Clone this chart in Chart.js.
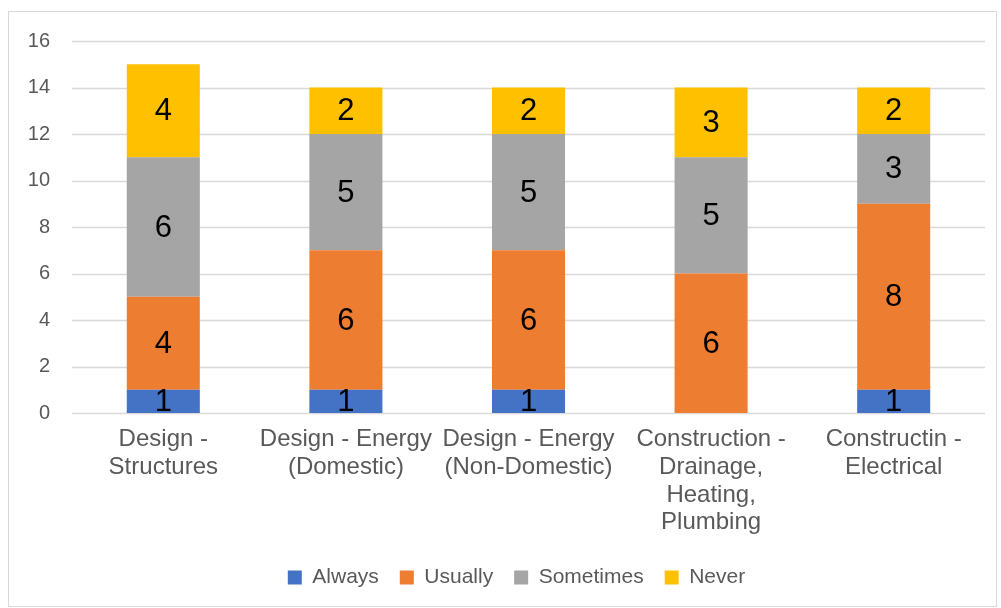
<!DOCTYPE html>
<html>
<head>
<meta charset="utf-8">
<script src="https://cdn.jsdelivr.net/npm/chart.js@4"></script>
<style>
  body { margin: 0; background: #fff; }
  #box { position: absolute; left: 8px; top: 11px; width: 987px; height: 594px; border: 1px solid #d9d9d9; }
</style>
</head>
<body>
<div id="box"><canvas id="grafico"></canvas></div>
<script>
// categorias (con saltos de linea como en el original)
const categorias = [
  ['Design -', 'Structures'],
  ['Design - Energy', '(Domestic)'],
  ['Design - Energy', '(Non-Domestic)'],
  ['Construction -', 'Drainage,', 'Heating,', 'Plumbing'],
  ['Constructin -', 'Electrical']
];
const always = [1, 1, 1, 0, 1];
const usually = [4, 6, 6, 6, 8];
const sometimes = [6, 5, 5, 5, 3];
const never = [4, 2, 2, 3, 2];
const yTicks = [0, 2, 4, 6, 8, 10, 12, 14, 16];

const fuente = "'Liberation Sans', Arial, sans-serif";

// lineas horizontales solo sobre el ancho de las categorias
const rejilla = {
  id: 'rejilla',
  beforeDatasetsDraw(chart) {
    const ctx = chart.ctx;
    const x = chart.scales.x;
    const y = chart.scales.y;
    const x0 = x.getPixelForValue(-0.5);
    const x1 = x.getPixelForValue(categorias.length - 0.5);
    ctx.save();
    ctx.strokeStyle = '#d9d9d9';
    ctx.lineWidth = 1.5;
    yTicks.forEach(v => {
      const py = Math.round(y.getPixelForValue(v)) + 0.5;
      ctx.beginPath();
      ctx.moveTo(x0, py);
      ctx.lineTo(x1, py);
      ctx.stroke();
    });
    ctx.restore();
  }
};

// la leyenda del original esta un poco a la izquierda del centro del area
const moverLeyenda = {
  id: 'moverLeyenda',
  afterLayout(chart) {
    chart.legend.left -= 12;
    chart.legend.right -= 12;
  }
};

// etiquetas dentro de las barras (no hay plugin datalabels offline)
const etiquetas = {
  id: 'etiquetas',
  afterDatasetsDraw(chart) {
    const ctx = chart.ctx;
    ctx.save();
    ctx.font = '31px ' + fuente;
    ctx.fillStyle = '#000';
    ctx.textAlign = 'center';
    ctx.textBaseline = 'middle';
    chart.data.datasets.forEach((ds, i) => {
      const meta = chart.getDatasetMeta(i);
      meta.data.forEach((bar, j) => {
        const v = ds.data[j];
        if (!v) return;
        ctx.fillText(String(v), bar.x, (bar.y + bar.base) / 2 + 1);
      });
    });
    ctx.restore();
  }
};

new Chart(document.getElementById('grafico'), {
  type: 'bar',
  data: {
    labels: categorias,
    datasets: [
      { label: 'Always', data: always, backgroundColor: '#4472C4' },
      { label: 'Usually', data: usually, backgroundColor: '#ED7D31' },
      { label: 'Sometimes', data: sometimes, backgroundColor: '#A5A5A5' },
      { label: 'Never', data: never, backgroundColor: '#FFC000' }
    ]
  },
  options: {
    responsive: true,
    maintainAspectRatio: false,
    animation: false,
    barPercentage: 0.4,
    categoryPercentage: 1,
    layout: { padding: { top: 29, right: 11, bottom: 8, left: 0 } },
    plugins: {
      legend: {
        position: 'bottom',
        fullSize: false,
        labels: { font: { family: fuente, size: 21 }, color: '#595959', boxWidth: 14, boxHeight: 14, padding: 21 }
      },
      tooltip: { enabled: true }
    },
    scales: {
      x: {
        stacked: true,
        grid: { display: false, drawTicks: false },
        border: { display: false },
        ticks: { font: { family: fuente, size: 24, lineHeight: 1.15 }, color: '#595959', maxRotation: 0, autoSkip: false, padding: 13 },
        afterFit(scale) { scale.height = 133; }
      },
      y: {
        stacked: true,
        min: 0,
        max: 16,
        afterBuildTicks(scale) { scale.ticks = yTicks.map(v => ({ value: v })); },
        grid: { display: false, drawTicks: false },
        border: { display: false },
        ticks: { font: { family: fuente, size: 20 }, color: '#595959', padding: 22 },
        afterFit(scale) {
          scale.width = 63;
          scale.paddingTop = 0;   // el padding de los ticks no debe empujar el area
          scale.paddingBottom = 0;
        }
      }
    }
  },
  plugins: [rejilla, moverLeyenda, etiquetas]
});
</script>
</body>
</html>
